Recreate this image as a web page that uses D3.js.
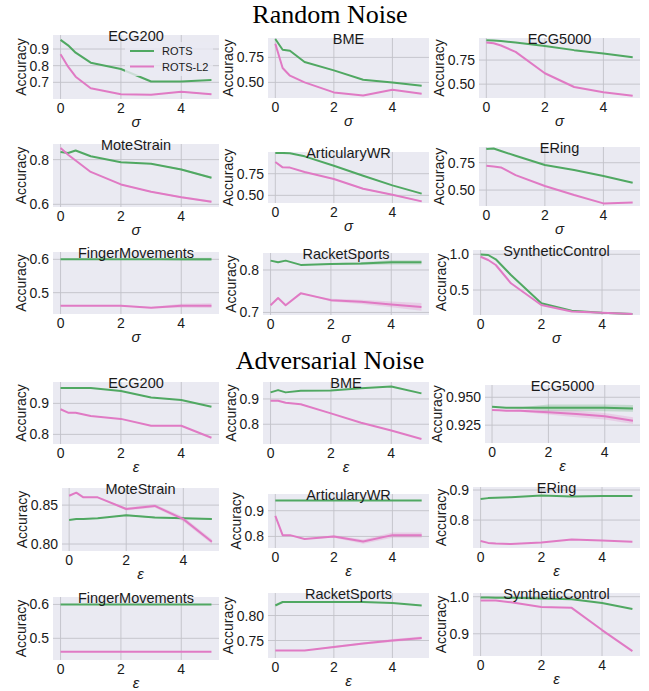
<!DOCTYPE html>
<html>
<head>
<meta charset="utf-8">
<script src="https://cdn.jsdelivr.net/npm/d3@7"></script>
<style>
  body { margin: 0; background: #fff; }
  text { font-family: "Liberation Sans", Arial, sans-serif; fill: #1a1a1a; }
  .section { font-family: "Liberation Serif", "Times New Roman", serif; font-size: 26px; fill: #000; }
</style>
</head>
<body>
<svg id="chart" width="649" height="691"></svg>
<script>
// noise levels (sigma / epsilon)
var xs = [0, 0.25, 0.5, 1, 2, 3, 4, 5];
var xTicks = [0, 2, 4];
var seriesNames = ["ROTS", "ROTS-L2"];
var datasets = ["ECG200", "BME", "ECG5000", "MoteStrain", "ArticularyWR", "ERing",
                "FingerMovements", "RacketSports", "SyntheticControl"];

// ---- Random noise ----
var randRots = [
  [0.955, 0.922, 0.878, 0.818, 0.780, 0.705, 0.705, 0.714],
  [0.934, 0.827, 0.817, 0.704, 0.620, 0.527, 0.500, 0.467],
  [0.955, 0.952, 0.948, 0.932, 0.897, 0.853, 0.819, 0.778],
  [0.834, 0.830, 0.841, 0.815, 0.788, 0.782, 0.756, 0.719],
  [0.989, 0.989, 0.985, 0.950, 0.842, 0.727, 0.615, 0.520],
  [0.875, 0.880, 0.857, 0.814, 0.729, 0.683, 0.628, 0.567],
  [0.600, 0.600, 0.600, 0.600, 0.600, 0.600, 0.600, 0.600],
  [0.822, 0.818, 0.822, 0.812, 0.814, 0.815, 0.818, 0.818],
  [0.997, 0.990, 0.930, 0.710, 0.314, 0.210, 0.180, 0.165]
];
var randL2 = [
  [0.868, 0.794, 0.734, 0.664, 0.628, 0.625, 0.644, 0.628],
  [0.887, 0.644, 0.567, 0.500, 0.400, 0.370, 0.427, 0.387],
  [0.932, 0.925, 0.901, 0.835, 0.613, 0.470, 0.415, 0.380],
  [0.852, 0.822, 0.796, 0.745, 0.689, 0.656, 0.632, 0.612],
  [0.885, 0.823, 0.820, 0.770, 0.689, 0.577, 0.508, 0.431],
  [0.723, 0.715, 0.707, 0.637, 0.537, 0.454, 0.378, 0.387],
  [0.461, 0.461, 0.461, 0.461, 0.461, 0.455, 0.461, 0.461],
  [0.717, 0.734, 0.717, 0.745, 0.729, 0.725, 0.719, 0.713],
  [0.966, 0.920, 0.850, 0.594, 0.290, 0.200, 0.180, 0.165]
];
// half width of the shaded band
var randRotsBand = [
  [0, 0, 0, 0, 0, 0, 0, 0],
  [0, 0, 0, 0, 0, 0, 0, 0],
  [0, 0, 0, 0, 0, 0, 0, 0.003],
  [0, 0, 0, 0, 0, 0.002, 0.004, 0.005],
  [0, 0, 0, 0, 0, 0, 0, 0],
  [0, 0, 0, 0, 0, 0, 0, 0],
  [0, 0, 0, 0, 0, 0.001, 0.004, 0.005],
  [0, 0, 0, 0, 0.002, 0.003, 0.005, 0.005],
  [0, 0, 0, 0, 0, 0, 0, 0]
];
var randL2Band = [
  [0, 0, 0, 0, 0, 0, 0.003, 0.004],
  [0, 0, 0, 0, 0, 0, 0, 0],
  [0, 0, 0, 0, 0, 0, 0, 0.003],
  [0, 0, 0, 0, 0.002, 0.003, 0.004, 0.005],
  [0, 0, 0, 0, 0.006, 0.008, 0.008, 0.008],
  [0, 0, 0, 0, 0, 0, 0, 0],
  [0, 0, 0, 0, 0.001, 0.002, 0.006, 0.007],
  [0, 0, 0, 0, 0.003, 0.005, 0.007, 0.009],
  [0, 0, 0, 0, 0, 0, 0, 0]
];
var randTickLabels = [["0.7", "0.8", "0.9"], ["0.50", "0.75"], ["0.50", "0.75"],
                      ["0.6", "0.8"], ["0.50", "0.75"], ["0.50", "0.75"],
                      ["0.5", "0.6"], ["0.7", "0.8"], ["0.5", "1.0"]];
var randYRange = [[0.60, 0.984], [0.344, 0.944], [0.356, 0.979],
                  [0.588, 0.870], [0.412, 1.0], [0.354, 0.894],
                  [0.436, 0.622], [0.694, 0.840], [0.15, 1.06]];

// ---- Adversarial noise ----
var advRots = [
  [0.950, 0.950, 0.950, 0.950, 0.940, 0.919, 0.911, 0.889],
  [0.926, 0.935, 0.926, 0.932, 0.933, 0.942, 0.949, 0.922],
  [0.9415, 0.9410, 0.9405, 0.9405, 0.9405, 0.9405, 0.9405, 0.9400],
  [0.831, 0.832, 0.832, 0.833, 0.837, 0.834, 0.833, 0.832],
  [0.940, 0.940, 0.940, 0.940, 0.940, 0.940, 0.940, 0.940],
  [0.870, 0.873, 0.874, 0.876, 0.882, 0.878, 0.880, 0.880],
  [0.600, 0.600, 0.600, 0.600, 0.600, 0.600, 0.600, 0.600],
  [0.820, 0.827, 0.827, 0.827, 0.827, 0.827, 0.825, 0.820],
  [0.998, 0.998, 0.997, 0.997, 0.995, 0.993, 0.983, 0.967]
];
var advL2 = [
  [0.881, 0.870, 0.870, 0.859, 0.850, 0.828, 0.828, 0.789],
  [0.893, 0.893, 0.885, 0.879, 0.843, 0.806, 0.775, 0.742],
  [0.9385, 0.9383, 0.9380, 0.9380, 0.9365, 0.9350, 0.9330, 0.9290],
  [0.862, 0.866, 0.860, 0.860, 0.845, 0.849, 0.832, 0.803],
  [0.880, 0.805, 0.805, 0.790, 0.800, 0.780, 0.805, 0.805],
  [0.730, 0.724, 0.722, 0.720, 0.725, 0.735, 0.732, 0.728],
  [0.460, 0.460, 0.460, 0.460, 0.460, 0.460, 0.460, 0.460],
  [0.730, 0.730, 0.730, 0.730, 0.737, 0.744, 0.750, 0.755],
  [0.990, 0.990, 0.990, 0.985, 0.972, 0.970, 0.910, 0.853]
];
var advRotsBand = [
  [0, 0, 0, 0, 0, 0, 0, 0],
  [0, 0, 0, 0, 0, 0, 0, 0],
  [0, 0, 0, 0.0005, 0.003, 0.003, 0.003, 0.003],
  [0, 0, 0, 0, 0.001, 0.001, 0.001, 0.001],
  [0, 0, 0, 0, 0, 0, 0, 0],
  [0, 0, 0, 0, 0, 0, 0, 0],
  [0, 0, 0, 0, 0, 0, 0, 0],
  [0, 0, 0, 0, 0, 0, 0, 0],
  [0, 0, 0, 0, 0, 0, 0, 0]
];
var advL2Band = [
  [0, 0, 0, 0, 0, 0, 0, 0],
  [0, 0, 0, 0, 0, 0, 0, 0],
  [0, 0, 0, 0.001, 0.002, 0.003, 0.003, 0.003],
  [0, 0, 0, 0, 0.002, 0.002, 0.003, 0.003],
  [0, 0, 0, 0, 0.005, 0.008, 0.010, 0.010],
  [0, 0, 0, 0, 0, 0, 0, 0],
  [0, 0, 0, 0, 0, 0, 0, 0],
  [0, 0, 0, 0, 0.002, 0.002, 0.003, 0.003],
  [0, 0, 0, 0, 0, 0, 0, 0]
];
var advTickLabels = [["0.8", "0.9"], ["0.8", "0.9"], ["0.925", "0.950"],
                     ["0.80", "0.85"], ["0.8", "0.9"], ["0.8", "0.9"],
                     ["0.5", "0.6"], ["0.75", "0.80"], ["0.9", "1.0"]];
var advYRange = [[0.769, 0.969], [0.722, 0.967], [0.909, 0.961],
                 [0.791, 0.872], [0.755, 0.965], [0.707, 0.910],
                 [0.436, 0.622], [0.715, 0.845], [0.840, 1.010]];

// ---- layout (plot boxes: left, top, right, bottom) ----
var randBoxes = [
  [53, 35, 219, 99], [268, 38, 429, 98], [479, 38, 640, 98],
  [53, 144, 219, 207], [268, 152, 429, 203], [479, 147, 640, 206],
  [53, 252, 219, 314], [263, 253, 429, 315], [473, 250, 640, 315]
];
var advBoxes = [
  [53, 382, 219, 444], [263, 382, 429, 444], [485, 385, 640, 443],
  [62, 488, 219, 551], [268, 494, 429, 548], [473, 487, 640, 548],
  [53, 597, 219, 660], [268, 593, 429, 658], [473, 593, 640, 656]
];

var colors = ["#50a862", "#e07ac4"];
var svg = d3.select("#chart");

svg.append("text").attr("class", "section")
  .attr("x", 330).attr("y", 23).attr("text-anchor", "middle").text("Random Noise");
svg.append("text").attr("class", "section")
  .attr("x", 330).attr("y", 369).attr("text-anchor", "middle").text("Adversarial Noise");

function drawPanel(box, name, rots, l2, rotsBand, l2Band, tickLabels, yRange, xLabel, withLegend) {
  var left = box[0], top = box[1], right = box[2], bottom = box[3];
  var x = d3.scaleLinear().domain([-0.25, 5.25]).range([left, right]);
  var y = d3.scaleLinear().domain(yRange).range([bottom, top]);
  var g = svg.append("g");

  g.append("rect").attr("x", left).attr("y", top)
    .attr("width", right - left).attr("height", bottom - top)
    .attr("fill", "#eaeaf2");

  var yTicks = tickLabels.map(Number);
  // grid
  g.selectAll(".gx").data(xTicks).enter().append("line")
    .attr("x1", function (d) { return x(d); }).attr("x2", function (d) { return x(d); })
    .attr("y1", top).attr("y2", bottom)
    .attr("stroke", "#c2c2c8").attr("stroke-width", 0.9);
  g.selectAll(".gy").data(yTicks).enter().append("line")
    .attr("x1", left).attr("x2", right)
    .attr("y1", function (d) { return y(d); }).attr("y2", function (d) { return y(d); })
    .attr("stroke", "#c2c2c8").attr("stroke-width", 0.9);

  var clipId = "clip-" + Math.round(left) + "-" + Math.round(top);
  g.append("clipPath").attr("id", clipId).append("rect")
    .attr("x", left).attr("y", top).attr("width", right - left).attr("height", bottom - top);
  var inner = g.append("g").attr("clip-path", "url(#" + clipId + ")");

  var series = [[rots, rotsBand], [l2, l2Band]];
  series.forEach(function (s, k) {
    var pts = xs.map(function (xv, i) { return {x: xv, v: s[0][i], b: s[1][i]}; });
    var area = d3.area()
      .x(function (d) { return x(d.x); })
      .y0(function (d) { return y(d.v - d.b); })
      .y1(function (d) { return y(d.v + d.b); });
    inner.append("path").datum(pts).attr("d", area)
      .attr("fill", colors[k]).attr("fill-opacity", 0.25);
  });
  series.forEach(function (s, k) {
    var pts = xs.map(function (xv, i) { return {x: xv, v: s[0][i]}; });
    var line = d3.line()
      .x(function (d) { return x(d.x); })
      .y(function (d) { return y(d.v); });
    inner.append("path").datum(pts).attr("d", line)
      .attr("fill", "none").attr("stroke", colors[k]).attr("stroke-width", 2)
      .attr("stroke-linejoin", "round");
  });

  // tick labels
  g.selectAll(".tx").data(xTicks).enter().append("text")
    .attr("x", function (d) { return x(d); }).attr("y", bottom + 14)
    .attr("text-anchor", "middle").attr("font-size", 14)
    .text(function (d) { return d; });
  var yl = g.selectAll(".ty").data(tickLabels).enter().append("text")
    .attr("x", left - 4).attr("y", function (d) { return y(+d) + 5; })
    .attr("text-anchor", "end").attr("font-size", 14)
    .text(function (d) { return d; });
  var maxW = 0;
  yl.each(function () { maxW = Math.max(maxW, this.getComputedTextLength()); });

  var lx = left - 4 - maxW - 4;
  var ly = (top + bottom) / 2;
  g.append("text").attr("transform", "translate(" + lx + "," + ly + ") rotate(-90)")
    .attr("text-anchor", "middle").attr("font-size", 14).text("Accuracy");

  g.append("text").attr("x", (left + right) / 2).attr("y", bottom + 28)
    .attr("text-anchor", "middle").attr("font-size", 15).attr("font-style", "italic")
    .text(xLabel);

  if (withLegend) {
    var lg = g.append("g");
    lg.append("rect").attr("x", right - 94).attr("y", top + 7)
      .attr("width", 88).attr("height", 34).attr("rx", 3)
      .attr("fill", "#eaeaf2").attr("fill-opacity", 0.8);
    seriesNames.forEach(function (nm, k) {
      var yy = top + 16 + k * 15.5;
      lg.append("line").attr("x1", right - 89).attr("x2", right - 65)
        .attr("y1", yy).attr("y2", yy)
        .attr("stroke", colors[k]).attr("stroke-width", 2);
      lg.append("text").attr("x", right - 57).attr("y", yy + 4)
        .attr("font-size", 11).text(nm);
    });
  }

  g.append("text").attr("x", (left + right) / 2).attr("y", top + 6)
    .attr("text-anchor", "middle").attr("font-size", 14.5).text(name);
}

datasets.forEach(function (nm, i) {
  drawPanel(randBoxes[i], nm, randRots[i], randL2[i], randRotsBand[i], randL2Band[i],
            randTickLabels[i], randYRange[i], "\u03c3", i === 0);
});
datasets.forEach(function (nm, i) {
  drawPanel(advBoxes[i], nm, advRots[i], advL2[i], advRotsBand[i], advL2Band[i],
            advTickLabels[i], advYRange[i], "\u03b5", false);
});
</script>
</body>
</html>
